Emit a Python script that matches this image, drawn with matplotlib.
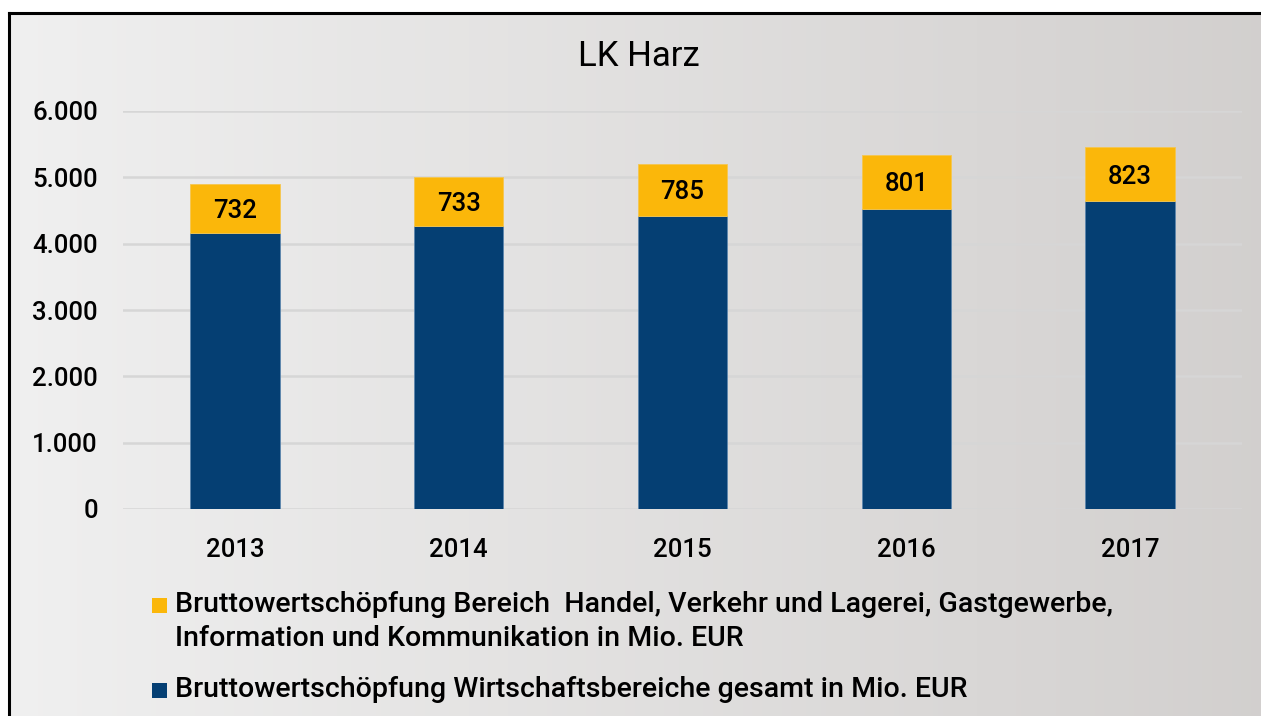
import numpy as np
import matplotlib.pyplot as plt
from matplotlib.patches import Rectangle
from matplotlib.lines import Line2D
from matplotlib.ticker import FuncFormatter

# Bruttowertschöpfung LK Harz, Mio. EUR
jahre = ["2013", "2014", "2015", "2016", "2017"]
gesamt = [4165, 4270, 4420, 4530, 4636]
handel_verkehr = [732, 733, 785, 801, 823]

titel = "LK Harz"
legende_handel = ("Bruttowertschöpfung Bereich  Handel, Verkehr und Lagerei, Gastgewerbe,\n"
                  "Information und Kommunikation in Mio. EUR")
legende_gesamt = "Bruttowertschöpfung Wirtschaftsbereiche gesamt in Mio. EUR"

BLAU = "#053F73"
GELB = "#FBB70A"
FONT = ["Roboto", "DejaVu Sans"]

W, H = 1261, 716
fig = plt.figure(figsize=(W / 100, H / 100), dpi=100)
fig.patch.set_facecolor("white")

# Hintergrund mit Verlauf von hell (links) nach dunkler (rechts)
bg = fig.add_axes([9 / W, 0, 1 - 9 / W, 1 - 13 / H])
links = np.array([0.94, 0.94, 0.94])
rechts = np.array([0.825, 0.815, 0.81])
t = np.linspace(0, 1, 256)[None, :, None]
verlauf = links + (rechts - links) * t
bg.imshow(verlauf, aspect="auto", extent=[0, 1, 0, 1])
bg.set_axis_off()

# Rahmen links und oben
fig.add_artist(Line2D([9 / W, 9 / W], [0, 1 - 13 / H], color="black", lw=2.2,
                      transform=fig.transFigure))
fig.add_artist(Line2D([9 / W, 1], [1 - 13 / H, 1 - 13 / H], color="black", lw=2.2,
                      transform=fig.transFigure))

ax = fig.add_axes([123 / W, 1 - 509 / H, (1242 - 123) / W, (509 - 111) / H])
ax.set_facecolor("none")

x = np.arange(len(jahre))
ax.bar(x, gesamt, width=0.4, color=BLAU, edgecolor="#5d86ad", linewidth=0.6, zorder=3)
oben = ax.bar(x, handel_verkehr, width=0.4, bottom=gesamt, color=GELB,
              edgecolor="#f5c650", linewidth=0.6, zorder=3)

for rect, wert, basis in zip(oben, handel_verkehr, gesamt):
    ax.text(rect.get_x() + rect.get_width() / 2, basis + wert / 2, str(wert),
            ha="center", va="center_baseline", fontsize=18.5, fontweight="medium",
            family=FONT, color="black", zorder=4)

ax.set_xlim(-0.5, len(jahre) - 0.5)
ax.set_ylim(0, 6000)
ax.set_yticks(np.arange(0, 6001, 1000))
ax.yaxis.set_major_formatter(FuncFormatter(lambda v, _: f"{int(v):,}".replace(",", ".")))
ax.set_xticks(x)
ax.set_xticklabels(jahre)
ax.tick_params(axis="both", length=0, labelsize=18.5, colors="black")
ax.tick_params(axis="y", pad=18)
ax.tick_params(axis="x", pad=21)
for lab in ax.get_xticklabels() + ax.get_yticklabels():
    lab.set_family(FONT)
    lab.set_fontweight("medium")

ax.grid(axis="y", color="#d6d6d6", linewidth=1.8, zorder=0)
for s in ax.spines.values():
    s.set_visible(False)

fig.text(639 / W, 1 - 57 / H, titel, ha="center", va="center",
         fontsize=25, family=FONT, color="black")

# Legende
for y_px, farbe, text in [(605, GELB, legende_handel), (690, BLAU, legende_gesamt)]:
    fig.add_artist(Rectangle((152 / W, 1 - (y_px + 8) / H), 15 / W, 15 / H,
                             facecolor=farbe, edgecolor="none",
                             transform=fig.transFigure))
    fig.text(175 / W, 1 - (y_px - 14) / H, text, ha="left", va="top",
             fontsize=20.5, fontweight="medium", family=FONT, color="black",
             linespacing=1.32)

fig.savefig("out.png", dpi=100)
